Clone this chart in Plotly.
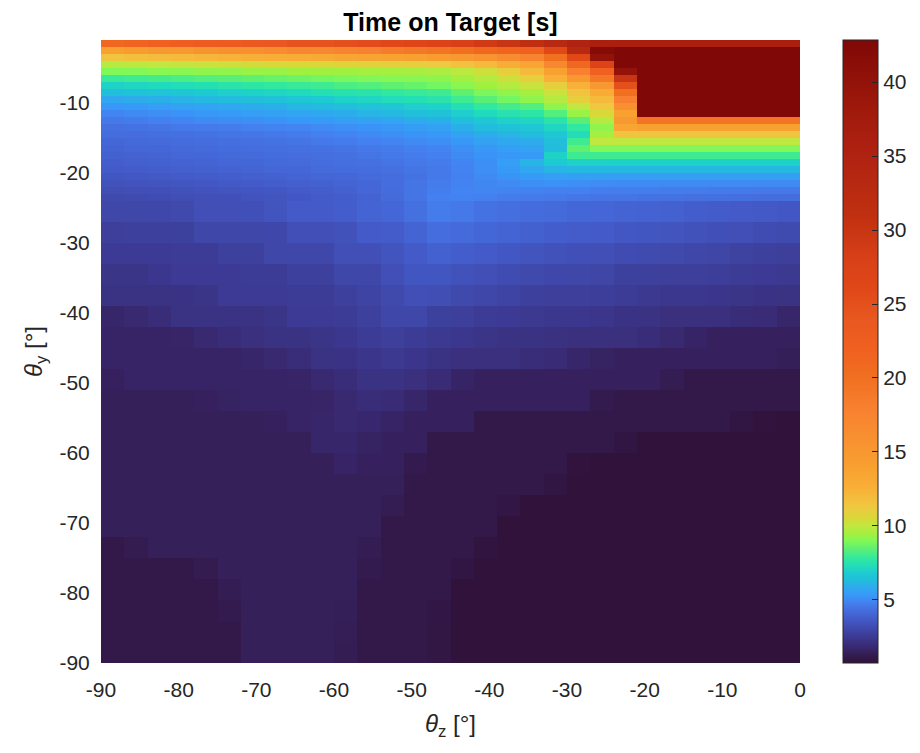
import plotly.graph_objects as go

# cell edges (degrees)
theta_z_edges = [-90, -87, -84, -81, -78, -75, -72, -69, -66, -63, -60, -57, -54, -51, -48, -45,
                 -42, -39, -36, -33, -30, -27, -24, -21, -18, -15, -12, -9, -6, -3, 0]
theta_y_edges = [-90, -87, -84, -81, -78, -75, -72, -69, -66, -63, -60, -57, -54, -51, -48, -45,
                 -42, -39, -36, -33, -30, -27, -24, -23, -22, -21, -20, -19, -18, -17, -16, -15,
                 -14, -13, -12, -11, -10, -9, -8, -7, -6, -5, -4, -3, -2, -1]

# time on target [s], rows listed from top (theta_y = -1) to bottom (theta_y = -90)
tot_rows_top_to_bottom = [
    [21, 21.5, 22, 22.5, 23, 23, 23.5, 24, 24.5, 24.5, 25, 25.5, 26, 26.5, 27, 28, 29, 30, 31, 33, 35, 36, 36, 36, 36, 36, 36, 36, 36, 36],
    [14, 14.5, 15, 15, 15.5, 16, 16, 16.5, 17, 17, 17.5, 18, 18.5, 19, 19.5, 20, 21, 21.5, 22, 26, 33, 42, 42.8, 42.8, 42.8, 42.8, 42.8, 42.8, 42.8, 42.8],
    [11.5, 11.7, 11.9, 12, 12.2, 12.4, 12.6, 12.8, 13, 13.2, 13.4, 13.6, 13.8, 14, 14.5, 15, 15.5, 16.5, 17.5, 20, 26, 40, 42.8, 42.8, 42.8, 42.8, 42.8, 42.8, 42.8, 42.8],
    [9.8, 9.9, 10, 10.1, 10.2, 10.3, 10.4, 10.5, 10.5, 10.6, 10.7, 10.8, 10.9, 11, 11.2, 11.6, 12, 12.8, 13.5, 17, 21, 27, 42.8, 42.8, 42.8, 42.8, 42.8, 42.8, 42.8, 42.8],
    [9.0, 9.0, 9.1, 9.1, 9.2, 9.2, 9.3, 9.3, 9.4, 9.4, 9.4, 9.5, 9.5, 9.55, 9.6, 9.9, 10.3, 11, 12, 14, 18, 22, 40, 42.8, 42.8, 42.8, 42.8, 42.8, 42.8, 42.8],
    [7.9, 8.0, 8.1, 8.2, 8.3, 8.4, 8.5, 8.6, 8.7, 8.8, 8.9, 9.0, 9.05, 9.1, 9.2, 9.5, 9.8, 10.3, 11, 12.5, 15, 19, 30, 42.8, 42.8, 42.8, 42.8, 42.8, 42.8, 42.8],
    [7.0, 7.1, 7.2, 7.3, 7.4, 7.6, 7.7, 7.8, 7.9, 8.0, 8.2, 8.3, 8.5, 8.6, 8.8, 9.1, 9.4, 9.8, 10.2, 11, 12.5, 15, 25, 42.8, 42.8, 42.8, 42.8, 42.8, 42.8, 42.8],
    [6.4, 6.5, 6.6, 6.7, 6.8, 6.9, 7.0, 7.1, 7.2, 7.4, 7.5, 7.6, 7.8, 7.9, 8.0, 8.5, 8.9, 9.2, 9.5, 10.2, 11.5, 13, 20, 42.8, 42.8, 42.8, 42.8, 42.8, 42.8, 42.8],
    [5.8, 5.9, 6.0, 6.1, 6.2, 6.3, 6.4, 6.5, 6.7, 6.8, 7.0, 7.1, 7.3, 7.4, 7.6, 8.0, 8.4, 8.8, 9.2, 9.8, 11, 12, 18, 42.8, 42.8, 42.8, 42.8, 42.8, 42.8, 42.8],
    [5.3, 5.4, 5.5, 5.6, 5.7, 5.8, 5.9, 6.0, 6.2, 6.3, 6.4, 6.6, 6.7, 6.9, 7.0, 7.4, 7.8, 8.1, 8.3, 9.2, 10, 11.3, 16, 42.8, 42.8, 42.8, 42.8, 42.8, 42.8, 42.8],
    [4.9, 5.0, 5.1, 5.2, 5.3, 5.4, 5.5, 5.6, 5.7, 5.8, 5.9, 6.1, 6.2, 6.4, 6.5, 6.9, 7.2, 7.5, 7.7, 8.3, 9.3, 10.5, 14, 42.8, 42.8, 42.8, 42.8, 42.8, 42.8, 42.8],
    [4.6, 4.7, 4.8, 4.9, 5.0, 5.05, 5.1, 5.2, 5.3, 5.4, 5.5, 5.6, 5.7, 5.9, 6.0, 6.4, 6.7, 7.0, 7.1, 7.6, 8.4, 9.8, 15, 19.5, 19.5, 19.5, 19.5, 19.5, 19.5, 19.5],
    [4.4, 4.45, 4.5, 4.6, 4.65, 4.7, 4.8, 4.85, 4.9, 5.0, 5.1, 5.2, 5.3, 5.45, 5.6, 6.0, 6.3, 6.5, 6.7, 7.1, 7.8, 9.2, 13.5, 14, 14, 14, 14, 14, 14, 14],
    [4.3, 4.3, 4.35, 4.4, 4.45, 4.5, 4.55, 4.6, 4.7, 4.8, 4.9, 5.0, 5.1, 5.2, 5.3, 5.6, 5.9, 6.1, 6.3, 6.7, 7.3, 9.5, 11.5, 11.5, 11.5, 11.5, 11.5, 11.5, 11.5, 11.5],
    [4.1, 4.15, 4.2, 4.25, 4.3, 4.35, 4.4, 4.45, 4.5, 4.6, 4.7, 4.8, 4.9, 5.0, 5.1, 5.3, 5.6, 5.8, 5.9, 6.4, 8.0, 10, 10, 10, 10, 10, 10, 10, 10, 10],
    [4.0, 4.05, 4.1, 4.15, 4.2, 4.25, 4.3, 4.35, 4.4, 4.45, 4.5, 4.6, 4.7, 4.8, 4.9, 5.1, 5.3, 5.5, 5.6, 6.3, 8.5, 9, 9, 9, 9, 9, 9, 9, 9, 9],
    [3.9, 3.95, 4.0, 4.05, 4.1, 4.15, 4.2, 4.25, 4.3, 4.35, 4.4, 4.5, 4.6, 4.7, 4.8, 5.0, 5.2, 5.3, 5.4, 7.0, 8, 8, 8, 8, 8, 8, 8, 8, 8, 8],
    [3.8, 3.85, 3.9, 3.95, 4.0, 4.05, 4.1, 4.15, 4.2, 4.3, 4.35, 4.4, 4.5, 4.6, 4.7, 4.9, 5.1, 5.5, 6.1, 6.8, 7, 7, 7, 7, 7, 7, 7, 7, 7, 7],
    [3.7, 3.75, 3.8, 3.85, 3.9, 3.95, 4.0, 4.05, 4.1, 4.2, 4.25, 4.3, 4.4, 4.5, 4.6, 4.85, 5.1, 5.4, 5.8, 6.1, 6.2, 6.2, 6.2, 6.2, 6.2, 6.2, 6.2, 6.2, 6.2, 6.2],
    [3.55, 3.6, 3.65, 3.7, 3.75, 3.8, 3.85, 3.9, 4.0, 4.05, 4.1, 4.2, 4.3, 4.45, 4.6, 4.8, 5.0, 5.2, 5.4, 5.5, 5.55, 5.55, 5.5, 5.5, 5.5, 5.5, 5.5, 5.5, 5.5, 5.5],
    [3.4, 3.45, 3.5, 3.55, 3.6, 3.65, 3.7, 3.8, 3.85, 3.9, 4.0, 4.05, 4.3, 4.5, 4.7, 4.85, 4.95, 5.0, 5.1, 5.15, 5.1, 5.05, 5.0, 5.0, 5.0, 5.0, 5.0, 5.0, 5.0, 5.0],
    [3.25, 3.3, 3.35, 3.4, 3.45, 3.5, 3.55, 3.6, 3.7, 3.8, 3.9, 4.05, 4.25, 4.5, 4.75, 4.9, 4.95, 4.9, 4.85, 4.8, 4.8, 4.75, 4.75, 4.75, 4.7, 4.7, 4.65, 4.65, 4.6, 4.6],
    [3.1, 3.15, 3.2, 3.25, 3.3, 3.35, 3.45, 3.5, 3.6, 3.7, 3.8, 3.95, 4.2, 4.5, 4.8, 4.85, 4.8, 4.7, 4.65, 4.6, 4.55, 4.5, 4.5, 4.45, 4.45, 4.4, 4.4, 4.35, 4.3, 4.3],
    [3.0, 3.0, 3.05, 3.1, 3.3, 3.3, 3.35, 3.5, 3.7, 3.7, 3.8, 4.0, 4.05, 4.4, 4.7, 4.6, 4.45, 4.35, 4.25, 4.2, 4.1, 4.05, 4.0, 3.95, 3.9, 3.8, 3.75, 3.7, 3.65, 3.6],
    [2.7, 2.75, 2.75, 2.8, 3.0, 3.0, 3.0, 3.05, 3.3, 3.3, 3.4, 3.7, 3.75, 4.0, 4.3, 4.2, 4.1, 4.0, 3.9, 3.8, 3.75, 3.7, 3.6, 3.55, 3.5, 3.4, 3.35, 3.3, 3.2, 3.15],
    [2.5, 2.5, 2.5, 2.55, 2.6, 2.75, 2.75, 3.0, 3.0, 3.05, 3.3, 3.3, 3.5, 3.7, 3.9, 3.8, 3.7, 3.6, 3.5, 3.4, 3.35, 3.3, 3.2, 3.15, 3.1, 3.0, 2.95, 2.85, 2.75, 2.7],
    [2.3, 2.3, 2.4, 2.5, 2.5, 2.5, 2.55, 2.6, 2.75, 2.75, 3.0, 3.0, 3.3, 3.55, 3.55, 3.4, 3.3, 3.2, 3.1, 3.05, 3.0, 2.95, 2.8, 2.75, 2.7, 2.7, 2.65, 2.55, 2.5, 2.45],
    [2.2, 2.2, 2.2, 2.25, 2.3, 2.5, 2.5, 2.5, 2.55, 2.6, 2.75, 2.9, 3.1, 3.3, 3.25, 3.1, 3.0, 2.9, 2.75, 2.7, 2.7, 2.65, 2.55, 2.45, 2.4, 2.4, 2.35, 2.3, 2.25, 2.2],
    [1.7, 1.8, 2.0, 2.2, 2.2, 2.2, 2.2, 2.3, 2.5, 2.5, 2.6, 2.75, 3.0, 3.0, 2.8, 2.7, 2.6, 2.5, 2.45, 2.4, 2.4, 2.35, 2.25, 2.2, 2.1, 2.1, 2.1, 2.0, 1.9, 1.7],
    [1.6, 1.6, 1.6, 1.65, 1.8, 2.0, 2.1, 2.2, 2.2, 2.3, 2.4, 2.55, 2.7, 2.6, 2.45, 2.4, 2.3, 2.2, 2.2, 2.15, 2.1, 2.1, 2.1, 2.0, 1.8, 1.6, 1.5, 1.5, 1.5, 1.5],
    [1.6, 1.6, 1.6, 1.6, 1.6, 1.6, 1.7, 1.8, 2.0, 2.2, 2.25, 2.35, 2.45, 2.35, 2.2, 2.1, 2.1, 2.1, 2.0, 1.9, 1.7, 1.55, 1.5, 1.5, 1.5, 1.5, 1.5, 1.5, 1.5, 1.4],
    [1.5, 1.6, 1.6, 1.6, 1.6, 1.6, 1.6, 1.6, 1.65, 1.8, 2.0, 2.2, 2.2, 2.1, 1.9, 1.6, 1.5, 1.5, 1.5, 1.5, 1.5, 1.5, 1.5, 1.5, 1.3, 1.1, 1.1, 1.1, 1.1, 1.1],
    [1.45, 1.45, 1.45, 1.45, 1.5, 1.55, 1.6, 1.6, 1.6, 1.65, 1.8, 2.0, 1.9, 1.7, 1.5, 1.5, 1.5, 1.5, 1.5, 1.5, 1.5, 1.2, 1.1, 1.1, 1.1, 1.1, 1.1, 1.1, 1.1, 1.1],
    [1.45, 1.45, 1.45, 1.45, 1.45, 1.45, 1.45, 1.5, 1.6, 1.7, 1.8, 1.75, 1.6, 1.5, 1.5, 1.5, 1.1, 1.1, 1.1, 1.1, 1.1, 1.1, 1.1, 1.1, 1.1, 1.1, 1.1, 0.9, 0.8, 0.75],
    [1.45, 1.45, 1.45, 1.45, 1.45, 1.45, 1.45, 1.45, 1.45, 1.7, 1.7, 1.55, 1.5, 1.5, 1.1, 1.1, 1.1, 1.1, 1.1, 1.1, 1.1, 1.1, 0.9, 0.74, 0.74, 0.74, 0.74, 0.74, 0.74, 0.74],
    [1.45, 1.45, 1.45, 1.45, 1.45, 1.45, 1.45, 1.45, 1.45, 1.45, 1.6, 1.5, 1.5, 1.2, 1.1, 1.1, 1.1, 1.1, 1.1, 1.1, 0.8, 0.74, 0.74, 0.74, 0.74, 0.74, 0.74, 0.74, 0.74, 0.74],
    [1.45, 1.45, 1.45, 1.45, 1.45, 1.45, 1.45, 1.45, 1.45, 1.45, 1.45, 1.45, 1.45, 1.1, 1.1, 1.1, 1.1, 1.1, 1.1, 0.9, 0.74, 0.74, 0.74, 0.74, 0.74, 0.74, 0.74, 0.74, 0.74, 0.74],
    [1.45, 1.45, 1.45, 1.45, 1.45, 1.45, 1.45, 1.45, 1.45, 1.45, 1.45, 1.45, 1.3, 1.1, 1.1, 1.1, 1.1, 1.0, 0.74, 0.74, 0.74, 0.74, 0.74, 0.74, 0.74, 0.74, 0.74, 0.74, 0.74, 0.74],
    [1.45, 1.45, 1.45, 1.45, 1.45, 1.45, 1.45, 1.45, 1.45, 1.45, 1.45, 1.45, 1.1, 1.1, 1.1, 1.1, 1.1, 0.74, 0.74, 0.74, 0.74, 0.74, 0.74, 0.74, 0.74, 0.74, 0.74, 0.74, 0.74, 0.74],
    [1.1, 1.25, 1.45, 1.45, 1.45, 1.45, 1.45, 1.45, 1.45, 1.45, 1.45, 1.3, 1.1, 1.1, 1.1, 1.1, 0.85, 0.74, 0.74, 0.74, 0.74, 0.74, 0.74, 0.74, 0.74, 0.74, 0.74, 0.74, 0.74, 0.74],
    [1.1, 1.1, 1.1, 1.1, 1.25, 1.45, 1.45, 1.45, 1.45, 1.45, 1.45, 1.2, 1.1, 1.1, 1.1, 0.9, 0.74, 0.74, 0.74, 0.74, 0.74, 0.74, 0.74, 0.74, 0.74, 0.74, 0.74, 0.74, 0.74, 0.74],
    [1.1, 1.1, 1.1, 1.1, 1.1, 1.3, 1.45, 1.45, 1.45, 1.45, 1.45, 1.1, 1.1, 1.1, 1.1, 0.74, 0.74, 0.74, 0.74, 0.74, 0.74, 0.74, 0.74, 0.74, 0.74, 0.74, 0.74, 0.74, 0.74, 0.74],
    [1.1, 1.1, 1.1, 1.1, 1.1, 1.2, 1.45, 1.45, 1.45, 1.45, 1.4, 1.1, 1.1, 1.1, 1.0, 0.74, 0.74, 0.74, 0.74, 0.74, 0.74, 0.74, 0.74, 0.74, 0.74, 0.74, 0.74, 0.74, 0.74, 0.74],
    [1.1, 1.1, 1.1, 1.1, 1.1, 1.1, 1.45, 1.45, 1.45, 1.45, 1.35, 1.1, 1.1, 1.1, 0.95, 0.74, 0.74, 0.74, 0.74, 0.74, 0.74, 0.74, 0.74, 0.74, 0.74, 0.74, 0.74, 0.74, 0.74, 0.74],
    [1.1, 1.1, 1.1, 1.1, 1.1, 1.1, 1.45, 1.45, 1.45, 1.45, 1.3, 1.1, 1.1, 1.1, 0.95, 0.74, 0.74, 0.74, 0.74, 0.74, 0.74, 0.74, 0.74, 0.74, 0.74, 0.74, 0.74, 0.74, 0.74, 0.74],
]

x_ticks = [-90, -80, -70, -60, -50, -40, -30, -20, -10, 0]
x_tick_labels = ["-90", "-80", "-70", "-60", "-50", "-40", "-30", "-20", "-10", "0"]
y_ticks = [-90, -80, -70, -60, -50, -40, -30, -20, -10]
y_tick_labels = ["-90", "-80", "-70", "-60", "-50", "-40", "-30", "-20", "-10"]
cbar_ticks = [5, 10, 15, 20, 25, 30, 35, 40]
z_min, z_max = 0.74, 42.84

# colour map sampled from the reference colour bar (value, colour)
cmap_values = [0.74, 1.1, 1.45, 1.6, 2.0, 2.2, 2.5, 2.75, 3.0, 3.3, 3.7, 4.0, 4.4, 4.8, 5.3, 5.8,
               6.3, 6.8, 7.2, 7.8, 8.5, 9.0, 9.4, 10.0, 10.5, 11.3, 12.5, 14, 16, 18, 20, 22, 24,
               26, 28, 31, 35, 38, 42.84]
cmap_colors = ["#30123b", "#33194a", "#35205a", "#372466", "#392d7a", "#3a3282", "#3c3a94",
               "#3d409c", "#3f47a8", "#414fb6", "#435ac8", "#4464d4", "#4570e0", "#4480f0",
               "#3898f8", "#30a8f0", "#22bcdc", "#1ecad2", "#20dabe", "#30e8a0", "#60f070",
               "#82f858", "#a0f040", "#c0e840", "#d8d838", "#f0c840", "#f8b038", "#f8a030",
               "#f89030", "#f88030", "#f07020", "#f06020", "#e85820", "#e04818", "#d84018",
               "#c03010", "#b02212", "#a01a0c", "#800806"]
colorscale = [[(v - z_min) / (z_max - z_min), c] for v, c in zip(cmap_values, cmap_colors)]

z = tot_rows_top_to_bottom[::-1]

FONT = "Liberation Sans, Arial, Helvetica, sans-serif"
TXT = "#262626"

# the page adds an 8px body margin, so the figure is 8px smaller than the window
W, H = 912, 745

fig = go.Figure(go.Heatmap(
    x=theta_z_edges, y=theta_y_edges, z=z,
    zmin=z_min, zmax=z_max, colorscale=colorscale,
    colorbar=dict(
        x=1.0615, xanchor="left", xpad=0, y=0.5, yanchor="middle", ypad=0,
        len=1.0, lenmode="fraction",
        thickness=35, outlinewidth=1, outlinecolor=TXT,
        tickvals=cbar_ticks, ticks="inside", ticklen=6, tickcolor=TXT,
        tickfont=dict(family=FONT, size=21, color=TXT),
    ),
    hoverinfo="skip",
))

fig.update_layout(
    width=W, height=H,
    margin=dict(l=93, r=120, t=32, b=90, autoexpand=False),
    paper_bgcolor="white", plot_bgcolor="white",
    title=dict(text="<b>Time on Target [s]</b>", x=442.5 / W, xanchor="center",
               y=1 - 14 / H, yanchor="middle",
               font=dict(family=FONT, size=25, color="black")),
    font=dict(family=FONT, color=TXT),
)
fig.update_xaxes(range=[-90, 0], tickvals=x_ticks, ticktext=x_tick_labels,
                 ticks="outside", ticklen=8, tickcolor="rgba(0,0,0,0)",
                 showgrid=False, zeroline=False, showline=False,
                 tickfont=dict(size=21, color=TXT),
                 title=dict(text="<i>θ</i><sub>z</sub> [°]", font=dict(size=24, color=TXT), standoff=14))
fig.update_yaxes(range=[-90, -1], tickvals=y_ticks, ticktext=y_tick_labels,
                 ticks="outside", ticklen=6, tickcolor="rgba(0,0,0,0)",
                 showgrid=False, zeroline=False, showline=False,
                 tickfont=dict(size=21, color=TXT),
                 title=dict(text="<i>θ</i><sub>y</sub> [°]", font=dict(size=24, color=TXT), standoff=10))

fig.write_html("out.html")
